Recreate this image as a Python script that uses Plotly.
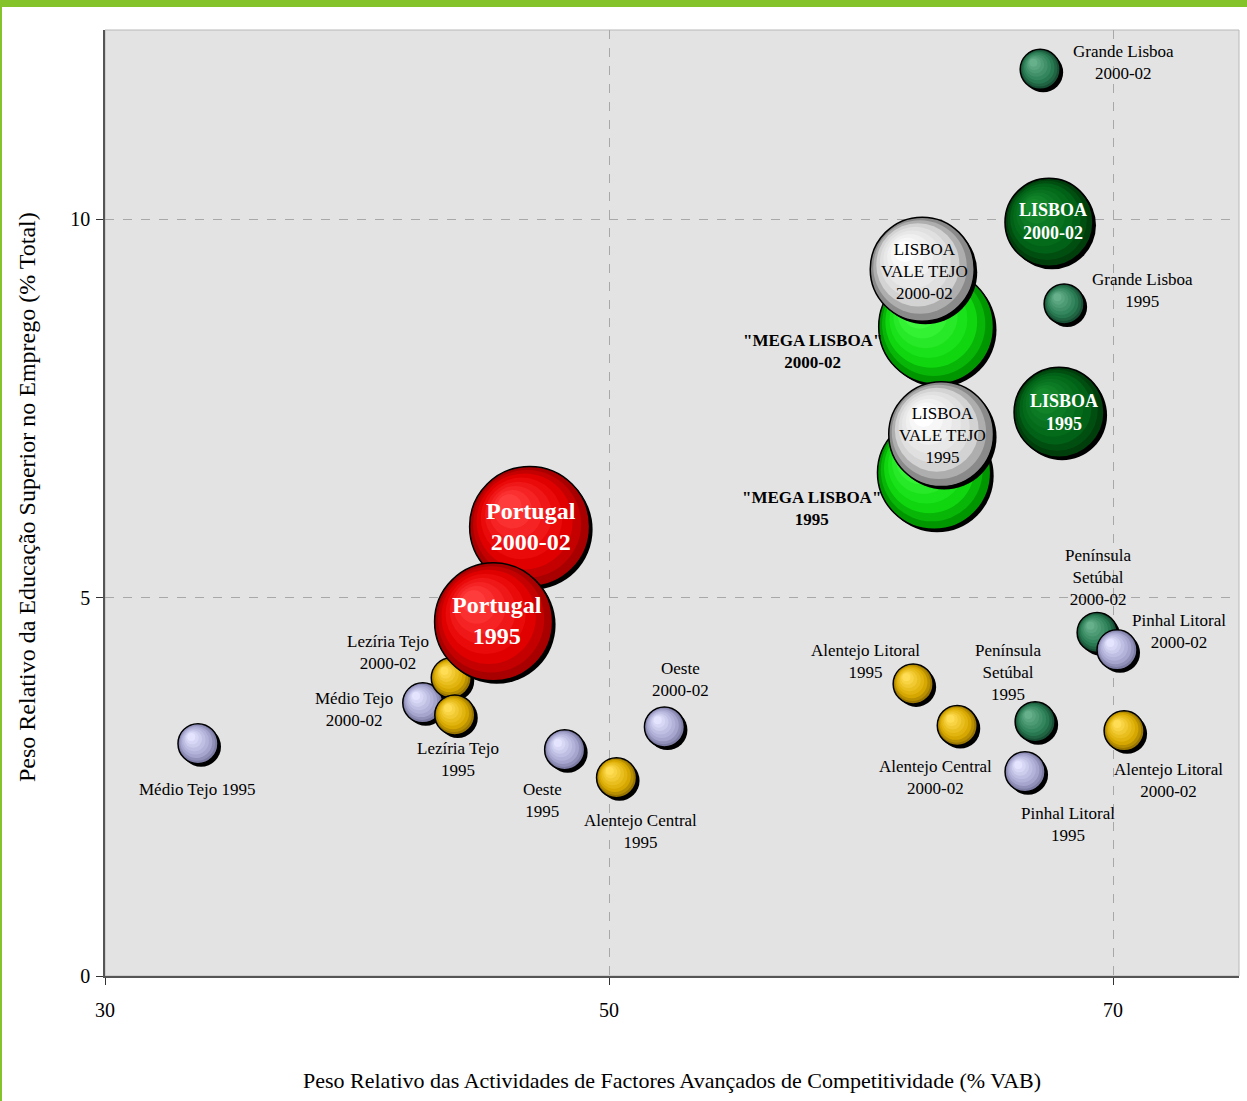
import plotly.graph_objects as go

# ---------------- DATA ----------------
regioes = [
    "Médio Tejo 1995", "Médio Tejo 2000-02", "Lezíria Tejo 2000-02", "Lezíria Tejo 1995",
    "Portugal 2000-02", "Portugal 1995",
    "Oeste 1995", "Alentejo Central 1995", "Oeste 2000-02",
    "Alentejo Litoral 1995", "Alentejo Central 2000-02", "Península Setúbal 1995",
    "Pinhal Litoral 1995", "Península Setúbal 2000-02", "Pinhal Litoral 2000-02",
    "Alentejo Litoral 2000-02",
    "Grande Lisboa 2000-02", "Grande Lisboa 1995", "LISBOA 2000-02", "LISBOA 1995",
    "MEGA LISBOA 2000-02", "MEGA LISBOA 1995", "LVT 2000-02", "LVT 1995",
]
rotulos = [
    "Médio Tejo 1995", "Médio Tejo<br>2000-02", "Lezíria Tejo<br>2000-02", "Lezíria Tejo<br>1995",
    "Portugal<br>2000-02", "Portugal<br>1995",
    "Oeste<br>1995", "Alentejo Central<br>1995", "Oeste<br>2000-02",
    "Alentejo Litoral<br>1995", "Alentejo Central<br>2000-02", "Península<br>Setúbal<br>1995",
    "Pinhal Litoral<br>1995", "Península<br>Setúbal<br>2000-02", "Pinhal Litoral<br>2000-02",
    "Alentejo Litoral<br>2000-02",
    "Grande Lisboa<br>2000-02", "Grande Lisboa<br>1995", "LISBOA<br>2000-02", "LISBOA<br>1995",
    "\"MEGA LISBOA\"<br>2000-02", "\"MEGA LISBOA\"<br>1995",
    "LISBOA<br>VALE TEJO<br>2000-02", "LISBOA<br>VALE TEJO<br>1995",
]
# Peso Relativo das Actividades de Factores Avançados de Competitividade (% VAB)
vab = [33.69, 42.61, 43.74, 43.88,
       46.85, 45.42,
       48.24, 50.30, 52.20,
       62.07, 63.82, 66.91,
       66.51, 69.37, 70.16,
       70.44,
       67.11, 68.06, 67.46, 67.86,
       62.98, 62.90, 62.43, 63.18]
# Peso Relativo da Educação Superior no Emprego (% Total)
edu = [3.07, 3.61, 3.94, 3.45,
       5.94, 4.68,
       2.99, 2.62, 3.29,
       3.86, 3.31, 3.36,
       2.70, 4.54, 4.31,
       3.24,
       11.98, 8.88, 9.96, 7.45,
       8.58, 6.65, 9.34, 7.16]
# relative bubble magnitude
dimensao = [10, 10, 10, 10,
            30, 29.5,
            10, 10, 10,
            10, 10, 10,
            10, 10, 10,
            10,
            10, 10, 22, 22.5,
            28.7, 28.3, 26, 26.2]
grupo = ["lav", "lav", "gold", "gold",
         "red", "red",
         "lav", "gold", "lav",
         "gold", "gold", "teal",
         "lav", "teal", "lav",
         "gold",
         "teal", "teal", "dkgreen", "dkgreen",
         "bright", "bright", "white", "white"]

x_ticks = [30, 50, 70]
y_ticks = [0, 5, 10]

# ---------------- STYLE ----------------
cores = {  # (edge, main, highlight)
    "lav": ("#7c7ca4", "#a9a9d2", "#e4e4ff"),
    "gold": ("#9a7600", "#dcac00", "#ffdd55"),
    "teal": ("#174f34", "#2a7d54", "#66b08c"),
    "dkgreen": ("#003e0c", "#006418", "#158a2c"),
    "bright": ("#009600", "#10dc10", "#4cff4c"),
    "white": ("#8a8a8a", "#dadada", "#ffffff"),
    "red": ("#a80000", "#e60000", "#ff3c3c"),
}
# label styles: (xshift, yshift, font size, bold, colour)
estilo_rotulo = [
    (0, -46, 17, False, "black"),
    (-69, -7, 17, False, "black"),
    (-63, 25, 17, False, "black"),
    (3, -45, 17, False, "black"),
    (1, 0, 24, True, "white"),
    (3, 1, 24, True, "white"),
    (-22, -51, 17, False, "black"),
    (24, -54, 17, False, "black"),
    (16, 48, 17, False, "black"),
    (-48, 22, 17, False, "black"),
    (-22, -52, 17, False, "black"),
    (-27, 49, 17, False, "black"),
    (43, -53, 17, False, "black"),
    (1, 55, 17, False, "black"),
    (62, 18, 17, False, "black"),
    (44, -50, 17, False, "black"),
    (83, 7, 17, False, "black"),
    (78, 13, 17, False, "black"),
    (4, 1, 18, True, "white"),
    (5, 0, 18, True, "white"),
    (-124, -25, 17, True, "black"),
    (-123, -36, 17, True, "black"),
    (2, -2, 17, False, "black"),
    (1, -1, 17, False, "black"),
]

W, H = 1247, 1101
ML, MR, MT, MB = 105, 8, 30, 125
XR = [30, 75]
YR = [0, 12.5]
pw, ph = W - ML - MR, H - MT - MB
px_x = (XR[1] - XR[0]) / pw
px_y = (YR[1] - YR[0]) / ph
SIZEREF = 0.25
FONT = "Liberation Serif, Times New Roman, serif"
LAYERS = [1.0, 0.9, 0.8, 0.68, 0.56, 0.44, 0.32, 0.2]
SHIFT = 0.42


def hex2rgb(h):
    h = h.lstrip("#")
    return [int(h[i:i + 2], 16) for i in (0, 2, 4)]


def mix(a, b, t):
    ca, cb = hex2rgb(a), hex2rgb(b)
    return "rgb(%d,%d,%d)" % tuple(round(ca[k] + (cb[k] - ca[k]) * t) for k in range(3))


def layer_colour(f, edge, main, hi):
    if f >= 0.78:
        return mix(edge, main, (1 - f) / 0.22)
    return mix(main, hi, (0.78 - f) / 0.58)


fig = go.Figure()

for i in range(len(regioes)):
    edge, main, hi = cores[grupo[i]]
    R = dimensao[i] / SIZEREF / 2.0
    xs, ys, sz, cols, lw = [], [], [], [], []
    # shadow
    xs.append(vab[i] + 3 * px_x)
    ys.append(edu[i] - 3 * px_y)
    sz.append(dimensao[i])
    cols.append("black")
    lw.append(0)
    for f in LAYERS:
        off = (1 - f) * R * SHIFT
        xs.append(vab[i] - off * px_x)
        ys.append(edu[i] + off * px_y)
        sz.append(dimensao[i] * f)
        cols.append(layer_colour(f, edge, main, hi))
        lw.append(1.5 if f == 1.0 else 0)
    fig.add_trace(go.Scatter(
        x=xs, y=ys, mode="markers", name=regioes[i],
        marker=dict(size=sz, sizemode="diameter", sizeref=SIZEREF, color=cols,
                    line=dict(width=lw, color="black"), opacity=1),
        hoverinfo="skip", showlegend=False, cliponaxis=False))

for i in range(len(regioes)):
    xsft, ysft, fs, bold, col = estilo_rotulo[i]
    txt = rotulos[i]
    if bold:
        txt = "<b>" + txt + "</b>"
    fig.add_annotation(x=vab[i], y=edu[i], xref="x", yref="y", text=txt,
                       showarrow=False, xshift=xsft, yshift=ysft, align="center",
                       xanchor="center", yanchor="middle",
                       font=dict(family=FONT, size=fs, color=col))

# axis titles
fig.add_annotation(xref="paper", yref="paper", x=0.5, y=0, yshift=-104,
                   xanchor="center", yanchor="middle",
                   text="Peso Relativo das Actividades de Factores Avançados de Competitividade (% VAB)",
                   showarrow=False, font=dict(family=FONT, size=22, color="black"))
fig.add_annotation(xref="paper", yref="paper", x=0, y=0.5, xshift=-78, yshift=6,
                   textangle=-90, xanchor="center", yanchor="middle",
                   text="Peso Relativo da Educação Superior no Emprego (% Total)",
                   showarrow=False, font=dict(family=FONT, size=24, color="black"))

# decorative frame: plot border + green page border
fig.add_shape(type="rect", xref="paper", yref="paper", x0=0, x1=1, y0=0, y1=1,
              line=dict(color="#b8b8b8", width=1), layer="below")
top = (H - MB) / ph
fig.add_shape(type="rect", xref="paper", yref="paper",
              x0=-ML / pw, x1=(W - ML) / pw, y0=(H - 7 - MB) / ph, y1=top,
              fillcolor="#84c42a", line=dict(width=0))
fig.add_shape(type="rect", xref="paper", yref="paper",
              x0=-ML / pw, x1=(2 - ML) / pw, y0=-MB / ph, y1=top,
              fillcolor="#84c42a", line=dict(width=0))

axis_common = dict(showline=True, linecolor="#555555", linewidth=1.5,
                   ticks="outside", ticklen=7, tickcolor="#333333", tickwidth=1,
                   showgrid=True, gridcolor="#a8a8a8", griddash="dash", gridwidth=1,
                   zeroline=False, tickfont=dict(family=FONT, size=20, color="black"),
                   fixedrange=True)
fig.update_xaxes(range=XR, tickvals=x_ticks, ticktext=[str(v) for v in x_ticks],
                 ticklabelstandoff=8, **axis_common)
fig.update_yaxes(range=YR, tickvals=y_ticks, ticktext=[str(v) for v in y_ticks],
                 ticklabelstandoff=2, **axis_common)

fig.update_layout(
    width=W, height=H, autosize=False,
    margin=dict(l=ML, r=MR, t=MT, b=MB, pad=0),
    paper_bgcolor="white", plot_bgcolor="#e3e3e3",
    showlegend=False,
    font=dict(family=FONT, color="black"),
)

fig.write_html("out.html", config={"displayModeBar": False},
               post_script="document.body.style.margin='0px';")
